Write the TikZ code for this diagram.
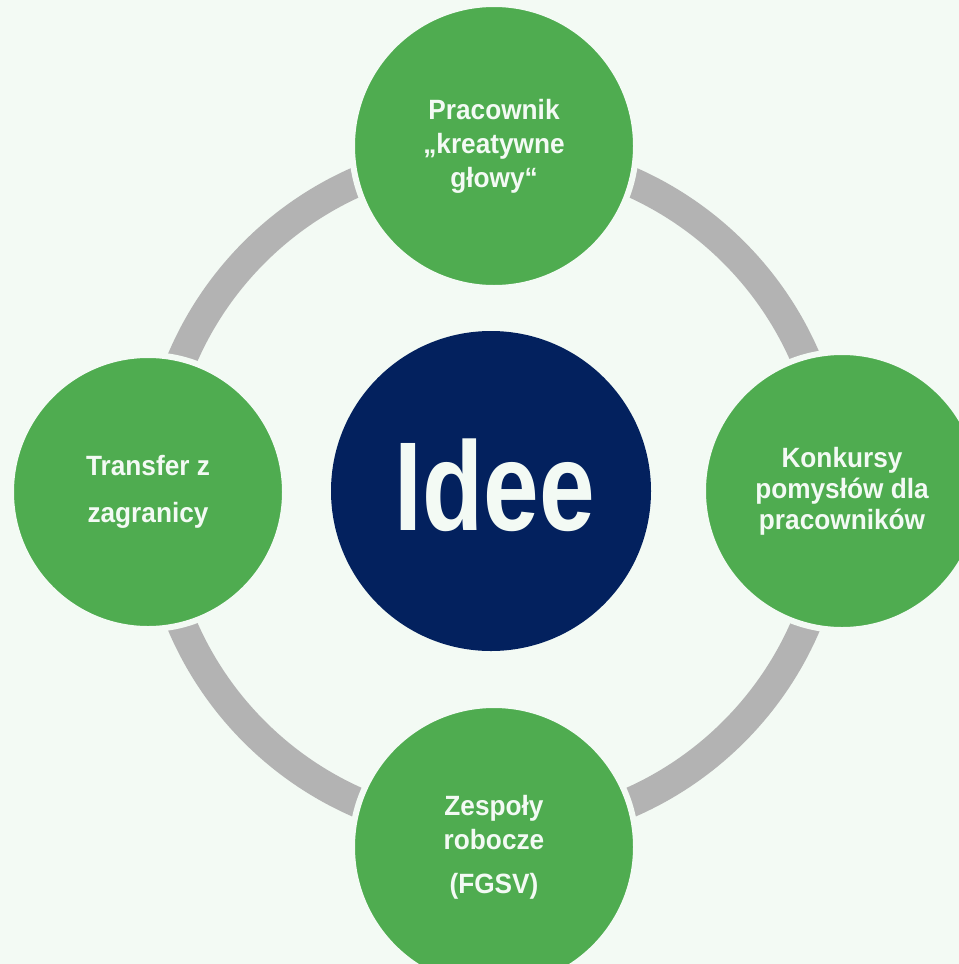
\documentclass[tikz,border=0pt]{standalone}
\usepackage{fontspec}
\setmainfont{Liberation Sans}
\newfontfamily\labelfont[FakeStretch=0.94]{Liberation Sans}
\newfontfamily\titlefont[FakeStretch=0.79]{Liberation Sans}
\definecolor{paper}{HTML}{F3FAF4}
\definecolor{leaf}{HTML}{4FAC50}
\definecolor{navy}{HTML}{03215E}
\definecolor{ringgray}{HTML}{B3B3B3}
\tikzset{
	source/.style={circle,fill=leaf,draw=paper,line width=6bp,inner sep=0pt,
		minimum size=#1,text=paper,align=center,
		font=\labelfont\bfseries\fontsize{28}{34}\selectfont},
}
\begin{document}
\begin{tikzpicture}[x=1bp,y=-1bp]
				\fill[paper] (0,0) rectangle (959,964);
				\useasboundingbox (0,0) rectangle (959,964);
				\draw[ringgray,line width=30bp] (494,492) circle[radius=339];
				\node[circle,fill=navy,inner sep=0pt,minimum size=320bp] (idee) at (491,491) {};
				\node[anchor=center,text=paper] (ideetext) at (495,485)
					{\titlefont\bfseries\fontsize{127}{130}\selectfont Idee};
				\node[source=284bp] (pracownik) at (494,146)
					{Pracownik\\„kreatywne\\głowy“};
				\node[source=274bp] (transfer) at (148,492)
					{Transfer z\\[13bp]zagranicy};
				\node[source=278bp] (konkursy) at (842,491)
					{Konkursy\\[-3bp]pomysłów dla\\[-3bp]pracowników};
				\node[source=284bp] (zespoly) at (494,847)
					{Zespoły\\robocze\\[10bp](FGSV)};
			\end{tikzpicture}
\end{document}
